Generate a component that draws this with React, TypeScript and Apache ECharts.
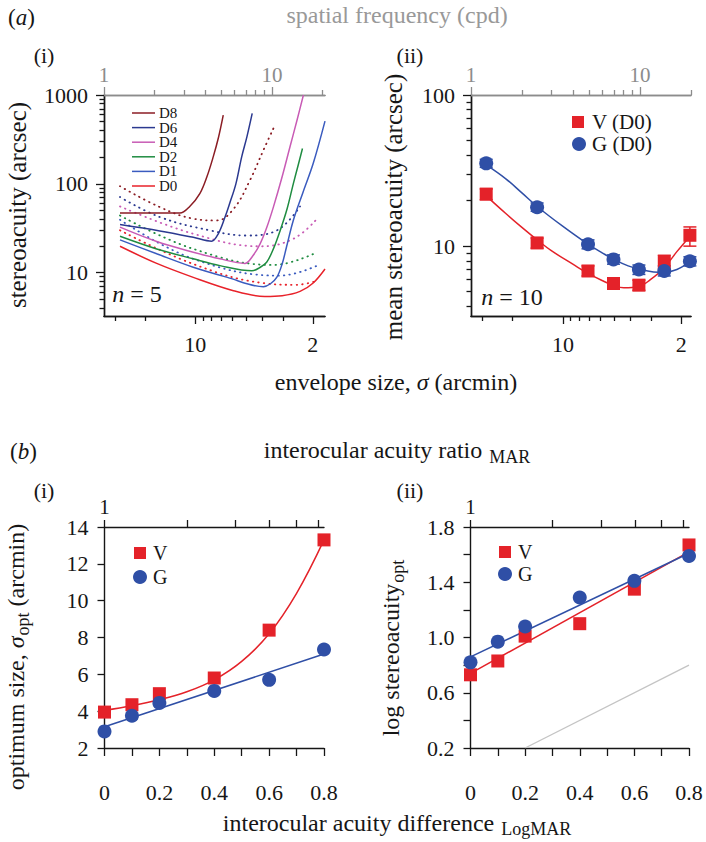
import React, { useEffect, useRef } from "react";
import * as echarts from "echarts";

const FONT = "'Liberation Serif', 'Times New Roman', Times, serif";
const RED = "#e42229";
const BLUE = "#2f4fa6";
const GREY = "#8c8c8c";
const INK = "#161616";

// ---------- Panel (a)(i): stereoacuity vs spatial frequency (cpd) ----------
const a1Names = ["D8", "D6", "D4", "D2", "D1", "D0"];
const a1Colors = ["#8b1d24", "#2b3990", "#c85bb5", "#1f8c41", "#3a5bbf", "#e8222a"];
const a1D8 = [[1.245, 46.8], [2.0, 46.8], [2.83, 46.8], [3.25, 56], [3.72, 77.5], [4.1, 120], [4.47, 201], [4.8, 330], [5.13, 594]];
const a1D6 = [[1.245, 34.8], [2.15, 29.5], [3.4, 25], [4.37, 22.6], [4.79, 27.4], [5.25, 42], [5.6, 60], [6.1, 100], [6.6, 200], [7.1, 340], [7.63, 620]];
const a1D4 = [[1.245, 32.5], [2.06, 22.4], [3.4, 17], [4.9, 14.3], [6.9, 12.7], [7.7, 15.5], [8.5, 21.1], [9.3, 32], [10.2, 54.7], [11.5, 120], [12.8, 260], [14.1, 520], [15.4, 1000]];
const a1D2 = [[1.245, 25.7], [2.06, 18.5], [3.4, 14.3], [4.9, 12], [7.6, 10.5], [8.4, 11.3], [9.3, 13.1], [10.2, 18.5], [11.2, 29.9], [12.3, 52], [13.4, 100], [14.3, 160], [15.2, 250]];
const a1D1 = [[1.245, 23.4], [2.06, 16.3], [3.4, 11.5], [5.37, 8.9], [8.9, 6.95], [9.8, 7.5], [10.7, 8.9], [11.5, 12.5], [12.2, 19.3], [13.4, 38.7], [15.3, 80], [17.6, 169], [20.7, 508]];
const a1D0 = [[1.245, 19.8], [2.06, 12.7], [3.4, 8.85], [5.9, 6.27], [9.06, 5.4], [11.5, 5.5], [14.7, 6.15], [17.6, 7.65], [20.7, 11]];
const a1Solid = [a1D8, a1D6, a1D4, a1D2, a1D1, a1D0];
// dotted companions
const a1D8d = [[1.245, 94], [2.15, 54.7], [3.4, 40.5], [4.69, 38.7], [5.9, 52], [7.4, 110], [8.9, 240], [10.2, 420]];
const a1D6d = [[1.245, 71], [2.15, 42.3], [4.27, 29.9], [7.06, 26.2], [10.7, 29.9], [14.7, 55.7]];
const a1D4d = [[1.245, 55.7], [3.4, 27.4], [8.5, 19.8], [13.4, 24], [18.6, 40.5]];
const a1D2d = [[1.245, 44], [3.4, 18.5], [10.2, 12.2], [18.6, 17]];
const a1D1d = [[1.245, 39.4], [3.4, 14.3], [11.2, 9.25], [18.6, 12]];
const a1D0d = [[1.245, 30], [3.4, 12.5], [9, 7.6], [14, 7.3], [18.6, 8.1]];
const a1Dotted = [a1D8d, a1D6d, a1D4d, a1D2d, a1D1d, a1D0d];

// ---------- Panel (a)(ii): mean stereoacuity ----------
const a2Freq = [1.23, 2.46, 4.92, 6.96, 9.84, 13.9, 19.7];
const a2V = [22.1, 10.5, 6.85, 5.66, 5.52, 7.88, 11.8];
const a2VLo = [20.3, 9.7, 6.35, 5.25, 5.1, 7.1, 10.0];
const a2VHi = [23.9, 11.3, 7.4, 6.1, 5.95, 8.7, 13.4];
const a2G = [35.3, 18.1, 10.3, 8.17, 7.0, 6.85, 7.95];
const a2GLo = [33.2, 17.0, 9.6, 7.6, 6.5, 6.35, 7.4];
const a2GHi = [37.5, 19.3, 11.0, 8.75, 7.5, 7.4, 8.5];
const a2VFit = [[1.23, 21.5], [1.6, 16.5], [2.0, 13.3], [2.46, 11], [3, 9.3], [4, 7.6], [4.92, 6.6], [6, 5.9], [6.96, 5.5], [8, 5.3], [9.84, 5.4], [11.5, 6.0], [13.9, 7.2], [16.5, 9.2], [19.7, 11.6]];
const a2GFit = [[1.23, 34.5], [1.6, 28], [2.0, 22.5], [2.46, 18.3], [3.5, 13.5], [4.92, 10.3], [6, 9], [6.96, 8.2], [8.5, 7.4], [9.84, 7.05], [12, 6.75], [13.9, 6.7], [16.5, 7.0], [19.7, 7.85]];

// ---------- Panel (b) ----------
const bX = [0, 0.1, 0.2, 0.4, 0.6, 0.8];
const b1V = [3.95, 4.35, 4.95, 5.8, 8.4, 13.3];
const b1G = [2.9, 3.75, 4.45, 5.1, 5.7, 7.35];
const b1VFitX = [0, 0.1, 0.2, 0.3, 0.4, 0.5, 0.6, 0.7, 0.8];
const b1VFit = [4.05, 4.3, 4.62, 5.05, 5.7, 6.7, 8.2, 10.4, 13.3];
const b1GFitX = [0, 0.8];
const b1GFit = [3.15, 7.1];
const b2V = [0.73, 0.83, 1.01, 1.10, 1.35, 1.67];
const b2G = [0.82, 0.97, 1.08, 1.29, 1.41, 1.59];
const b2FitX = [0, 0.8];
const b2VFit = [0.74, 1.62];
const b2GFit = [0.86, 1.61];
const b2IdX = [0.2, 0.8];
const b2IdY = [0.2, 0.8];

// ---------- ticks ----------
const freqMajor = [1, 10];
const freqMinor = [2, 3, 4, 5, 6, 7, 8, 9, 20];
const sigmaMajor = [10, 2];
const sigmaMinor = [30, 20, 9, 8, 7, 6, 5, 4, 3];
const a1YMajor = [10, 100, 1000];
const a1YMinor = [4, 5, 6, 7, 8, 9, 20, 30, 40, 50, 60, 70, 80, 90, 200, 300, 400, 500, 600, 700, 800, 900];
const a2YMajor = [10, 100];
const a2YMinor = [4, 5, 6, 7, 8, 9, 20, 30, 40, 50, 60, 70, 80, 90];
const bXTicks = [0, 0.1, 0.2, 0.3, 0.4, 0.5, 0.6, 0.7, 0.8];
const bXLabels = [0, 0.2, 0.4, 0.6, 0.8];
const ratioTicks = [1, 2, 3, 4, 5, 6];
const ratioLabels = [1];
const b2YTicks = [0.2, 0.4, 0.6, 0.8, 1.0, 1.2, 1.4, 1.6, 1.8];
const b2YLabels = [0.2, 0.6, 1.0, 1.4, 1.8];

const A1_FMAX = 20.7;
const A2_FMAX = 20;
const SIGMA_K = 35;
const A1_YMIN = 3.25;
const A2_YMIN = 3.45;

const L = Math.log10;
const logPts = (pts: number[][]) => pts.map(([x, y]) => [L(x), L(y)]);
const logFmt = (v: number) => String(Math.round(Math.pow(10, v)));
const bFmt = (v: number) => (Math.abs(v) < 1e-9 ? "0" : v.toFixed(1));

function axis(o: any) {
  const color = o.color || INK;
  return {
    type: "value",
    gridIndex: o.grid,
    position: o.pos,
    min: o.min,
    max: o.max,
    inverse: !!o.inverse,
    interval: o.interval,
    axisLine: { show: true, onZero: false, lineStyle: { color, width: 1.4 } },
    axisTick: o.ticks
      ? { show: true, inside: false, length: o.tickLen, customValues: o.ticks, lineStyle: { color, width: 1.3 } }
      : { show: true, inside: false, length: o.tickLen, lineStyle: { color, width: 1.3 } },
    axisLabel: o.labels || o.autoLabels
      ? {
          show: true,
          ...(o.labels ? { customValues: o.labels } : {}),
          formatter: o.fmt,
          color,
          fontFamily: FONT,
          fontSize: o.fontSize || 22,
          margin: o.margin,
        }
      : { show: false },
    splitLine: { show: false },
  };
}

function errSeries(freq: number[], lo: number[], hi: number[], color: string) {
  return {
    type: "custom",
    xAxisIndex: 4,
    yAxisIndex: 2,
    z: 3,
    silent: true,
    data: freq.map((f, i) => [L(f), L(lo[i]), L(hi[i])]),
    encode: { x: 0, y: [1, 2] },
    renderItem: (params: any, api: any) => {
      const x = api.value(0);
      const p1 = api.coord([x, api.value(1)]);
      const p2 = api.coord([x, api.value(2)]);
      const w = 6.5;
      const st = { stroke: color, lineWidth: 1.5 };
      return {
        type: "group",
        children: [
          { type: "line", shape: { x1: p1[0], y1: p1[1], x2: p2[0], y2: p2[1] }, style: st },
          { type: "line", shape: { x1: p1[0] - w, y1: p1[1], x2: p1[0] + w, y2: p1[1] }, style: st },
          { type: "line", shape: { x1: p2[0] - w, y1: p2[1], x2: p2[0] + w, y2: p2[1] }, style: st },
        ],
      };
    },
  };
}

function txt(x: number, y: number, text: string, extra: any = {}, rot = 0) {
  return {
    type: "text",
    x,
    y,
    rotation: rot,
    silent: true,
    style: {
      text,
      fontFamily: FONT,
      fontSize: 24,
      fill: INK,
      textAlign: "center",
      textVerticalAlign: "middle",
      ...extra,
    },
  };
}

const richBase = (size: number, subDrop = 0.55) => ({
  m: { fontFamily: FONT, fontSize: size, fill: INK },
  i: { fontFamily: FONT, fontSize: size, fontStyle: "italic", fill: INK },
  s: { fontFamily: FONT, fontSize: Math.round(size * 0.75), fill: INK, padding: [Math.round(size * subDrop), 0, 0, 1] },
});

const solidItem = (color: string) => ({ color, opacity: 1 });

function buildOption() {
  const grids = [
    { left: 104, top: 95, width: 221, height: 221 },
    { left: 471, top: 95, width: 220, height: 221 },
    { left: 104.5, top: 527, width: 219.5, height: 221 },
    { left: 470.5, top: 527, width: 218.5, height: 221 },
  ];

  const xAxis = [
    axis({ grid: 0, pos: "top", min: 0, max: L(A1_FMAX), color: GREY, ticks: freqMajor.map(L), tickLen: 8, labels: freqMajor.map(L), fmt: logFmt, margin: 10, fontSize: 21 }),
    axis({ grid: 0, pos: "top", min: 0, max: L(A1_FMAX), color: GREY, ticks: freqMinor.map(L), tickLen: 5 }),
    axis({ grid: 0, pos: "bottom", min: L(SIGMA_K / A1_FMAX), max: L(SIGMA_K), inverse: true, ticks: sigmaMajor.map(L), tickLen: 8, labels: sigmaMajor.map(L), fmt: logFmt, margin: 17 }),
    axis({ grid: 0, pos: "bottom", min: L(SIGMA_K / A1_FMAX), max: L(SIGMA_K), inverse: true, ticks: sigmaMinor.map(L), tickLen: 5 }),
    axis({ grid: 1, pos: "top", min: 0, max: L(A2_FMAX), color: GREY, ticks: freqMajor.map(L), tickLen: 8, labels: freqMajor.map(L), fmt: logFmt, margin: 10, fontSize: 21 }),
    axis({ grid: 1, pos: "top", min: 0, max: L(A2_FMAX), color: GREY, ticks: freqMinor.map(L), tickLen: 5 }),
    axis({ grid: 1, pos: "bottom", min: L(SIGMA_K / A2_FMAX), max: L(SIGMA_K), inverse: true, ticks: sigmaMajor.map(L), tickLen: 8, labels: sigmaMajor.map(L), fmt: logFmt, margin: 17 }),
    axis({ grid: 1, pos: "bottom", min: L(SIGMA_K / A2_FMAX), max: L(SIGMA_K), inverse: true, ticks: sigmaMinor.map(L), tickLen: 5 }),
    axis({ grid: 2, pos: "bottom", min: 0, max: 0.8, ticks: bXTicks, tickLen: 8, labels: bXLabels, fmt: bFmt, margin: 33 }),
    axis({ grid: 2, pos: "top", min: 0, max: 0.8, ticks: ratioTicks.map(L), tickLen: 7, labels: ratioLabels.map(L), fmt: logFmt, margin: 10, fontSize: 21 }),
    axis({ grid: 3, pos: "bottom", min: 0, max: 0.8, ticks: bXTicks, tickLen: 8, labels: bXLabels, fmt: bFmt, margin: 33 }),
    axis({ grid: 3, pos: "top", min: 0, max: 0.8, ticks: ratioTicks.map(L), tickLen: 7, labels: ratioLabels.map(L), fmt: logFmt, margin: 10, fontSize: 21 }),
  ];

  const yAxis = [
    axis({ grid: 0, pos: "left", min: L(A1_YMIN), max: 3, ticks: a1YMajor.map(L), tickLen: 8, labels: a1YMajor.map(L), fmt: logFmt, margin: 16 }),
    axis({ grid: 0, pos: "left", min: L(A1_YMIN), max: 3, ticks: a1YMinor.map(L), tickLen: 4.5 }),
    axis({ grid: 1, pos: "left", min: L(A2_YMIN), max: 2, ticks: a2YMajor.map(L), tickLen: 8, labels: a2YMajor.map(L), fmt: logFmt, margin: 16 }),
    axis({ grid: 1, pos: "left", min: L(A2_YMIN), max: 2, ticks: a2YMinor.map(L), tickLen: 4.5 }),
    axis({ grid: 2, pos: "left", min: 2, max: 14, interval: 2, tickLen: 7, autoLabels: true, fmt: (v: number) => String(v), margin: 16 }),
    axis({ grid: 3, pos: "left", min: 0.2, max: 1.8, ticks: b2YTicks, tickLen: 7, labels: b2YLabels, fmt: (v: number) => v.toFixed(1), margin: 16 }),
  ];

  const series: any[] = [];
  // (a)(i) dotted then solid
  a1Dotted.forEach((pts, i) => {
    series.push({
      type: "line", name: a1Names[i] + " (dotted)", xAxisIndex: 0, yAxisIndex: 0, data: logPts(pts),
      showSymbol: false, symbol: "none", smooth: 0.4, silent: true, z: 2,
      lineStyle: { color: a1Colors[i], width: 1.8, type: [0.5, 5], cap: "round" },
    });
  });
  a1Solid.forEach((pts, i) => {
    series.push({
      type: "line", name: a1Names[i], xAxisIndex: 0, yAxisIndex: 0, data: logPts(pts),
      showSymbol: false, symbol: "none", smooth: 0.35, silent: true, z: 3,
      lineStyle: { color: a1Colors[i], width: 1.5 },
    });
  });
  // (a)(ii)
  series.push({ type: "line", xAxisIndex: 4, yAxisIndex: 2, data: logPts(a2VFit), showSymbol: false, symbol: "none", smooth: 0.4, silent: true, z: 2, lineStyle: { color: RED, width: 1.5 } });
  series.push({ type: "line", xAxisIndex: 4, yAxisIndex: 2, data: logPts(a2GFit), showSymbol: false, symbol: "none", smooth: 0.4, silent: true, z: 2, lineStyle: { color: BLUE, width: 1.5 } });
  series.push(errSeries(a2Freq, a2VLo, a2VHi, RED));
  series.push({ type: "scatter", name: "V (D0)", xAxisIndex: 4, yAxisIndex: 2, symbol: "rect", symbolSize: 13, z: 4, silent: true, itemStyle: solidItem(RED), data: a2Freq.map((f, i) => [L(f), L(a2V[i])]) });
  series.push(errSeries(a2Freq, a2GLo, a2GHi, BLUE));
  series.push({ type: "scatter", name: "G (D0)", xAxisIndex: 4, yAxisIndex: 2, symbol: "circle", symbolSize: 14, z: 5, silent: true, itemStyle: solidItem(BLUE), data: a2Freq.map((f, i) => [L(f), L(a2G[i])]) });
  // (b)(i)
  series.push({ type: "line", xAxisIndex: 8, yAxisIndex: 4, data: b1VFitX.map((x, i) => [x, b1VFit[i]]), showSymbol: false, symbol: "none", smooth: 0.4, silent: true, z: 2, lineStyle: { color: RED, width: 1.5 } });
  series.push({ type: "line", xAxisIndex: 8, yAxisIndex: 4, data: b1GFitX.map((x, i) => [x, b1GFit[i]]), showSymbol: false, symbol: "none", silent: true, z: 2, lineStyle: { color: BLUE, width: 1.5 } });
  series.push({ type: "scatter", name: "V", xAxisIndex: 8, yAxisIndex: 4, symbol: "rect", symbolSize: 13, z: 4, silent: true, itemStyle: solidItem(RED), data: bX.map((x, i) => [x, b1V[i]]) });
  series.push({ type: "scatter", name: "G", xAxisIndex: 8, yAxisIndex: 4, symbol: "circle", symbolSize: 14, z: 5, silent: true, itemStyle: solidItem(BLUE), data: bX.map((x, i) => [x, b1G[i]]) });
  // (b)(ii)
  series.push({ type: "line", xAxisIndex: 10, yAxisIndex: 5, data: b2IdX.map((x, i) => [x, b2IdY[i]]), showSymbol: false, symbol: "none", silent: true, z: 1, lineStyle: { color: "#c4c4c4", width: 1.3 } });
  series.push({ type: "line", xAxisIndex: 10, yAxisIndex: 5, data: b2FitX.map((x, i) => [x, b2VFit[i]]), showSymbol: false, symbol: "none", silent: true, z: 2, lineStyle: { color: RED, width: 1.5 } });
  series.push({ type: "line", xAxisIndex: 10, yAxisIndex: 5, data: b2FitX.map((x, i) => [x, b2GFit[i]]), showSymbol: false, symbol: "none", silent: true, z: 2, lineStyle: { color: BLUE, width: 1.5 } });
  series.push({ type: "scatter", name: "V", xAxisIndex: 10, yAxisIndex: 5, symbol: "rect", symbolSize: 13, z: 4, silent: true, itemStyle: solidItem(RED), data: bX.map((x, i) => [x, b2V[i]]) });
  series.push({ type: "scatter", name: "G", xAxisIndex: 10, yAxisIndex: 5, symbol: "circle", symbolSize: 14, z: 5, silent: true, itemStyle: solidItem(BLUE), data: bX.map((x, i) => [x, b2G[i]]) });

  const graphic: any[] = [];
  // panel labels and titles
  graphic.push(txt(8, 17, "({i|a})", { textAlign: "left", fontSize: 23, rich: richBase(23) }));
  graphic.push(txt(397, 15, "spatial frequency (cpd)", { fill: "#999999" }));
  graphic.push(txt(44, 55, "(i)", { fontSize: 22 }));
  graphic.push(txt(410, 55, "(ii)", { fontSize: 22 }));
  graphic.push(txt(17, 205, "stereoacuity (arcsec)", { fontSize: 25 }, Math.PI / 2));
  graphic.push(txt(393, 207, "mean stereoacuity (arcsec)", { fontSize: 25 }, Math.PI / 2));
  graphic.push(txt(137, 294, "{i|n} = 5", { rich: richBase(24) }));
  graphic.push(txt(512, 297, "{i|n} = 10", { rich: richBase(24) }));
  graphic.push(txt(396, 382, "{m|envelope size, }{i|σ}{m| (arcmin)}", { rich: richBase(24) }));
  graphic.push(txt(10, 451, "({i|b})", { textAlign: "left", fontSize: 23, rich: richBase(23) }));
  graphic.push(txt(397, 450, "{m|interocular acuity ratio }{s|MAR}", { rich: richBase(24) }));
  graphic.push(txt(44, 490, "(i)", { fontSize: 22 }));
  graphic.push(txt(410, 490, "(ii)", { fontSize: 22 }));
  graphic.push(txt(16, 657, "{m|optimum size, }{i|σ}{s|opt}{m| (arcmin)}", { rich: richBase(24) }, Math.PI / 2));
  graphic.push(txt(391, 648, "{m|log stereoacuity}{s|opt}", { rich: richBase(24) }, Math.PI / 2));
  graphic.push(txt(397, 823, "{m|interocular acuity difference }{s|LogMAR}", { rich: richBase(24, 0.45) }));

  // legend (a)(i)
  a1Names.forEach((n, i) => {
    const y = 113 + i * 14.6;
    graphic.push({ type: "line", silent: true, shape: { x1: 132, y1: y, x2: 155, y2: y }, style: { stroke: a1Colors[i], lineWidth: 1.5 } });
    graphic.push(txt(159, y, n, { textAlign: "left", fontSize: 15, lineHeight: 13 }));
  });
  // legend (a)(ii)
  graphic.push({ type: "rect", silent: true, shape: { x: 572, y: 116, width: 12, height: 12 }, style: { fill: RED } });
  graphic.push(txt(592, 122, "V (D0)", { textAlign: "left", fontSize: 21, lineHeight: 20 }));
  graphic.push({ type: "circle", silent: true, shape: { cx: 579, cy: 144, r: 7 }, style: { fill: BLUE } });
  graphic.push(txt(592, 144, "G (D0)", { textAlign: "left", fontSize: 21, lineHeight: 20 }));
  // legend (b)(i)
  graphic.push({ type: "rect", silent: true, shape: { x: 134, y: 547, width: 12, height: 12 }, style: { fill: RED } });
  graphic.push(txt(153, 553, "V", { textAlign: "left", fontSize: 20, lineHeight: 20 }));
  graphic.push({ type: "circle", silent: true, shape: { cx: 140, cy: 577, r: 7 }, style: { fill: BLUE } });
  graphic.push(txt(153, 577, "G", { textAlign: "left", fontSize: 20, lineHeight: 20 }));
  // legend (b)(ii)
  graphic.push({ type: "rect", silent: true, shape: { x: 499, y: 546, width: 12, height: 12 }, style: { fill: RED } });
  graphic.push(txt(518, 552, "V", { textAlign: "left", fontSize: 20, lineHeight: 20 }));
  graphic.push({ type: "circle", silent: true, shape: { cx: 505, cy: 574, r: 7 }, style: { fill: BLUE } });
  graphic.push(txt(518, 574, "G", { textAlign: "left", fontSize: 20, lineHeight: 20 }));

  return {
    animation: false,
    backgroundColor: "#ffffff",
    textStyle: { fontFamily: FONT },
    grid: grids,
    xAxis,
    yAxis,
    series,
    graphic: { elements: graphic },
  };
}

export default function App() {
  const ref = useRef<HTMLDivElement>(null);
  useEffect(() => {
    const chart = echarts.init(ref.current as HTMLDivElement, null, { renderer: "svg" });
    chart.setOption(buildOption() as any);
    return () => chart.dispose();
  }, []);
  return (
    <div
      ref={ref}
      style={{ position: "fixed", left: 0, top: 0, width: 706, height: 842, background: "#fff" }}
    />
  );
}
